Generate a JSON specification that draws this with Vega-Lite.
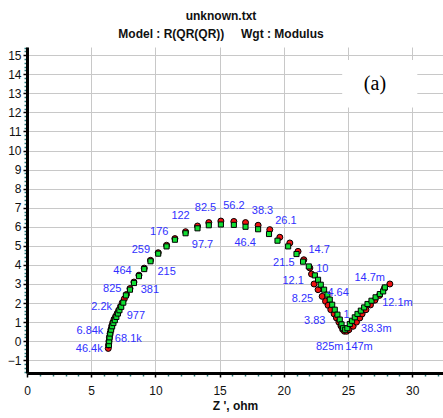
{
  "$schema": "https://vega.github.io/schema/vega-lite/v6.json",
  "autosize": {"type": "none"},
  "padding": {"left": 27, "top": 47, "right": 0, "bottom": 45},
  "width": 416,
  "height": 326,
  "background": "white",
  "title": {
    "text": ["unknown.txt", "Model : R(QR(QR))\u00a0\u00a0\u00a0\u00a0\u00a0Wgt : Modulus"],
    "font": "Liberation Sans Narrow, Liberation Sans",
    "fontSize": 12,
    "fontWeight": "bold",
    "color": "#111111",
    "anchor": "middle",
    "dx": -14,
    "dy": 20,
    "lineHeight": 18,
    "baseline": "bottom",
    "offset": 9
  },
  "config": {
    "view": {"stroke": null},
    "axis": {
      "labelFont": "Liberation Sans Narrow, Liberation Sans",
      "labelFontSize": 12,
      "labelColor": "#111111",
      "titleFont": "Liberation Sans Narrow, Liberation Sans",
      "domainColor": "black",
      "domainWidth": 3,
      "gridColor": "#c8c8c8",
      "gridWidth": 1,
      "labelOverlap": false,
      "labelBound": false,
      "labelFlush": false
    }
  },
  "datasets": {
    "measured": [
      {"zr": 6.33, "zi": -0.38}, {"zr": 6.35, "zi": -0.2}, {"zr": 6.38, "zi": 0.0}, {"zr": 6.42, "zi": 0.2},
      {"zr": 6.47, "zi": 0.4}, {"zr": 6.53, "zi": 0.6}, {"zr": 6.6, "zi": 0.8}, {"zr": 6.68, "zi": 0.98},
      {"zr": 6.78, "zi": 1.15}, {"zr": 6.9, "zi": 1.3}, {"zr": 7.02, "zi": 1.45}, {"zr": 7.14, "zi": 1.62},
      {"zr": 7.28, "zi": 1.82}, {"zr": 7.42, "zi": 2.02}, {"zr": 7.58, "zi": 2.22}, {"zr": 7.75, "zi": 2.45},
      {"zr": 8.02, "zi": 2.76}, {"zr": 8.33, "zi": 3.1}, {"zr": 8.72, "zi": 3.46}, {"zr": 9.13, "zi": 3.83},
      {"zr": 9.62, "zi": 4.24}, {"zr": 10.22, "zi": 4.64}, {"zr": 10.87, "zi": 5.03}, {"zr": 11.52, "zi": 5.38},
      {"zr": 12.35, "zi": 5.74}, {"zr": 13.28, "zi": 6.04}, {"zr": 14.16, "zi": 6.22}, {"zr": 15.1, "zi": 6.3},
      {"zr": 16.11, "zi": 6.28}, {"zr": 17.02, "zi": 6.22}, {"zr": 18.0, "zi": 6.08}, {"zr": 18.91, "zi": 5.85},
      {"zr": 19.69, "zi": 5.45}, {"zr": 20.47, "zi": 5.15}, {"zr": 21.11, "zi": 4.71}, {"zr": 21.56, "zi": 4.27},
      {"zr": 22.03, "zi": 3.84}, {"zr": 22.16, "zi": 3.52}, {"zr": 22.36, "zi": 3.0}, {"zr": 22.67, "zi": 2.7},
      {"zr": 22.99, "zi": 2.35}, {"zr": 23.25, "zi": 2.09}, {"zr": 23.45, "zi": 1.88}, {"zr": 23.66, "zi": 1.65},
      {"zr": 23.92, "zi": 1.43}, {"zr": 24.1, "zi": 1.22}, {"zr": 24.29, "zi": 1.0}, {"zr": 24.45, "zi": 0.8},
      {"zr": 24.58, "zi": 0.62}, {"zr": 24.72, "zi": 0.52}, {"zr": 24.9, "zi": 0.52}, {"zr": 25.07, "zi": 0.6},
      {"zr": 25.4, "zi": 0.78}, {"zr": 25.66, "zi": 1.0}, {"zr": 25.92, "zi": 1.22}, {"zr": 26.1, "zi": 1.43},
      {"zr": 26.4, "zi": 1.65}, {"zr": 26.75, "zi": 1.9}, {"zr": 27.1, "zi": 2.15}, {"zr": 27.45, "zi": 2.4},
      {"zr": 27.84, "zi": 2.78}, {"zr": 28.26, "zi": 3.0}
    ],
    "fitted": [
      {"zr": 6.38, "zi": -0.2}, {"zr": 6.4, "zi": 0.0}, {"zr": 6.43, "zi": 0.2}, {"zr": 6.48, "zi": 0.4},
      {"zr": 6.55, "zi": 0.6}, {"zr": 6.63, "zi": 0.78}, {"zr": 6.73, "zi": 0.95}, {"zr": 6.84, "zi": 1.1},
      {"zr": 6.96, "zi": 1.27}, {"zr": 7.08, "zi": 1.45}, {"zr": 7.2, "zi": 1.62}, {"zr": 7.34, "zi": 1.8},
      {"zr": 7.5, "zi": 2.02}, {"zr": 7.7, "zi": 2.4}, {"zr": 8.02, "zi": 2.7}, {"zr": 8.33, "zi": 3.05},
      {"zr": 8.72, "zi": 3.41}, {"zr": 9.13, "zi": 3.78}, {"zr": 9.62, "zi": 4.19}, {"zr": 10.22, "zi": 4.59},
      {"zr": 10.87, "zi": 4.97}, {"zr": 11.52, "zi": 5.32}, {"zr": 12.35, "zi": 5.66}, {"zr": 13.28, "zi": 5.92},
      {"zr": 14.16, "zi": 6.08}, {"zr": 15.1, "zi": 6.12}, {"zr": 16.11, "zi": 6.1}, {"zr": 17.02, "zi": 6.0},
      {"zr": 18.0, "zi": 5.87}, {"zr": 18.85, "zi": 5.62}, {"zr": 19.51, "zi": 5.27}, {"zr": 20.34, "zi": 4.97},
      {"zr": 20.99, "zi": 4.57}, {"zr": 21.5, "zi": 4.17}, {"zr": 21.95, "zi": 3.92}, {"zr": 22.42, "zi": 3.45},
      {"zr": 22.67, "zi": 3.22}, {"zr": 22.88, "zi": 2.96}, {"zr": 23.14, "zi": 2.7}, {"zr": 23.4, "zi": 2.44},
      {"zr": 23.58, "zi": 2.18}, {"zr": 23.77, "zi": 1.91}, {"zr": 23.97, "zi": 1.65}, {"zr": 24.18, "zi": 1.39},
      {"zr": 24.36, "zi": 1.13}, {"zr": 24.5, "zi": 0.88}, {"zr": 24.62, "zi": 0.68}, {"zr": 24.78, "zi": 0.6},
      {"zr": 24.95, "zi": 0.68}, {"zr": 25.14, "zi": 0.9}, {"zr": 25.32, "zi": 1.07}, {"zr": 25.53, "zi": 1.25},
      {"zr": 25.74, "zi": 1.43}, {"zr": 26.0, "zi": 1.6}, {"zr": 26.26, "zi": 1.77}, {"zr": 26.52, "zi": 1.95},
      {"zr": 26.83, "zi": 2.12}, {"zr": 27.15, "zi": 2.3}, {"zr": 27.48, "zi": 2.47}, {"zr": 27.74, "zi": 2.61},
      {"zr": 27.87, "zi": 2.82}
    ],
    "labels": [
      {"zr": 4.85, "zi": -0.42, "t": "46.4k"}, {"zr": 4.9, "zi": 0.53, "t": "6.84k"},
      {"zr": 7.89, "zi": 0.1, "t": "68.1k"}, {"zr": 5.81, "zi": 1.77, "t": "2.2k"},
      {"zr": 8.48, "zi": 1.33, "t": "977"}, {"zr": 6.64, "zi": 2.72, "t": "825"},
      {"zr": 9.57, "zi": 2.68, "t": "381"}, {"zr": 7.44, "zi": 3.68, "t": "464"},
      {"zr": 10.87, "zi": 3.65, "t": "215"}, {"zr": 8.87, "zi": 4.79, "t": "259"},
      {"zr": 10.3, "zi": 5.75, "t": "176"}, {"zr": 13.67, "zi": 5.02, "t": "97.7"},
      {"zr": 11.96, "zi": 6.54, "t": "122"}, {"zr": 13.9, "zi": 6.98, "t": "82.5"},
      {"zr": 16.11, "zi": 7.1, "t": "56.2"}, {"zr": 16.99, "zi": 5.17, "t": "46.4"},
      {"zr": 18.34, "zi": 6.81, "t": "38.3"}, {"zr": 20.16, "zi": 6.28, "t": "26.1"},
      {"zr": 20.0, "zi": 4.12, "t": "21.5"}, {"zr": 22.75, "zi": 4.79, "t": "14.7"},
      {"zr": 23.0, "zi": 3.77, "t": "10"}, {"zr": 20.73, "zi": 3.17, "t": "12.1"},
      {"zr": 21.45, "zi": 2.19, "t": "8.25"}, {"zr": 24.23, "zi": 2.51, "t": "4.64"},
      {"zr": 26.69, "zi": 3.3, "t": "14.7m"}, {"zr": 28.85, "zi": 2.02, "t": "12.1m"},
      {"zr": 22.41, "zi": 1.07, "t": "3.83"}, {"zr": 24.88, "zi": 1.37, "t": "1"},
      {"zr": 27.21, "zi": 0.62, "t": "38.3m"}, {"zr": 23.58, "zi": -0.3, "t": "825m"},
      {"zr": 25.86, "zi": -0.33, "t": "147m"}
    ],
    "box": [{"x1": 24.55, "x2": 30.4, "y1": 12.25, "y2": 14.75, "t": "(a)", "xc": 27.1, "yc": 13.5}]
  },
  "encoding": {
    "x": {
      "field": "zr", "type": "quantitative",
      "scale": {"domain": [0, 32.4], "nice": false, "zero": false},
      "axis": {
        "title": "Z ', ohm",
        "titleFontSize": 12,
        "titleFontWeight": "bold",
        "titleColor": "#111111",
        "titlePadding": 4,
        "values": [0,1,2,3,4,5,6,7,8,9,10,11,12,13,14,15,16,17,18,19,20,21,22,23,24,25,26,27,28,29,30,31,32],
        "labelExpr": "datum.value % 5 == 0 ? datum.label : ''",
        "labelPadding": 8,
        "grid": true,
        "gridOpacity": {"condition": {"test": "datum.value % 5 == 0", "value": 1}, "value": 0},
        "tickColor": {"condition": {"test": "datum.value % 5 == 0", "value": "black"}, "value": "#2a7a7a"},
        "tickSize": {"condition": {"test": "datum.value % 5 == 0", "value": 4}, "value": 3},
        "tickWidth": 1.5
      }
    },
    "y": {
      "field": "zi", "type": "quantitative",
      "scale": {"domain": [-1.67, 15.43], "nice": false, "zero": false},
      "axis": {
        "title": null,
        "values": [-1.6,-1.4,-1.2,-1,-0.8,-0.6,-0.4,-0.2,0,0.2,0.4,0.6,0.8,1,1.2,1.4,1.6,1.8,2,2.2,2.4,2.6,2.8,3,3.2,3.4,3.6,3.8,4,4.2,4.4,4.6,4.8,5,5.2,5.4,5.6,5.8,6,6.2,6.4,6.6,6.8,7,7.2,7.4,7.6,7.8,8,8.2,8.4,8.6,8.8,9,9.2,9.4,9.6,9.8,10,10.2,10.4,10.6,10.8,11,11.2,11.4,11.6,11.8,12,12.2,12.4,12.6,12.8,13,13.2,13.4,13.6,13.8,14,14.2,14.4,14.6,14.8,15,15.2,15.4],
        "labelExpr": "abs(datum.value - round(datum.value)) < 0.001 ? format(round(datum.value), 'd') : ''",
        "labelPadding": 2,
        "grid": true,
        "gridOpacity": {"condition": {"test": "abs(datum.value - round(datum.value)) < 0.001", "value": 1}, "value": 0},
        "tickColor": {"condition": {"test": "abs(datum.value - round(datum.value)) < 0.001", "value": "black"}, "value": "#2a7a7a"},
        "tickSize": {"condition": {"test": "abs(datum.value - round(datum.value)) < 0.001", "value": 4}, "value": 3},
        "tickWidth": 1.5
      }
    }
  },
  "layer": [
    {
      "data": {"name": "box"},
      "mark": {"type": "rect", "fill": "white", "stroke": null},
      "encoding": {
        "x": {"field": "x1", "type": "quantitative"},
        "x2": {"field": "x2"},
        "y": {"field": "y1", "type": "quantitative"},
        "y2": {"field": "y2"}
      }
    },
    {
      "data": {"name": "box"},
      "mark": {"type": "text", "font": "Liberation Serif", "fontSize": 20, "color": "black", "align": "center", "baseline": "middle"},
      "encoding": {
        "x": {"field": "xc", "type": "quantitative"},
        "y": {"field": "yc", "type": "quantitative"},
        "text": {"field": "t"}
      }
    },
    {
      "data": {"name": "measured"},
      "mark": {"type": "point", "shape": "circle", "filled": true, "fill": "#ee1111", "stroke": "black", "strokeWidth": 1, "size": 36, "opacity": 1}
    },
    {
      "data": {"name": "fitted"},
      "mark": {"type": "point", "shape": "square", "filled": true, "fill": "#11dd33", "stroke": "black", "strokeWidth": 1, "size": 26, "opacity": 1}
    },
    {
      "data": {"name": "labels"},
      "mark": {"type": "text", "font": "Liberation Sans Narrow, Liberation Sans", "fontSize": 11, "color": "#3030ff", "align": "center", "baseline": "middle"},
      "encoding": {"text": {"field": "t"}}
    },
    {
      "data": {"values": [{}]},
      "mark": {"type": "rule", "color": "black", "strokeWidth": 3},
      "encoding": {"y": {"datum": 15.43}}
    }
  ]
}
